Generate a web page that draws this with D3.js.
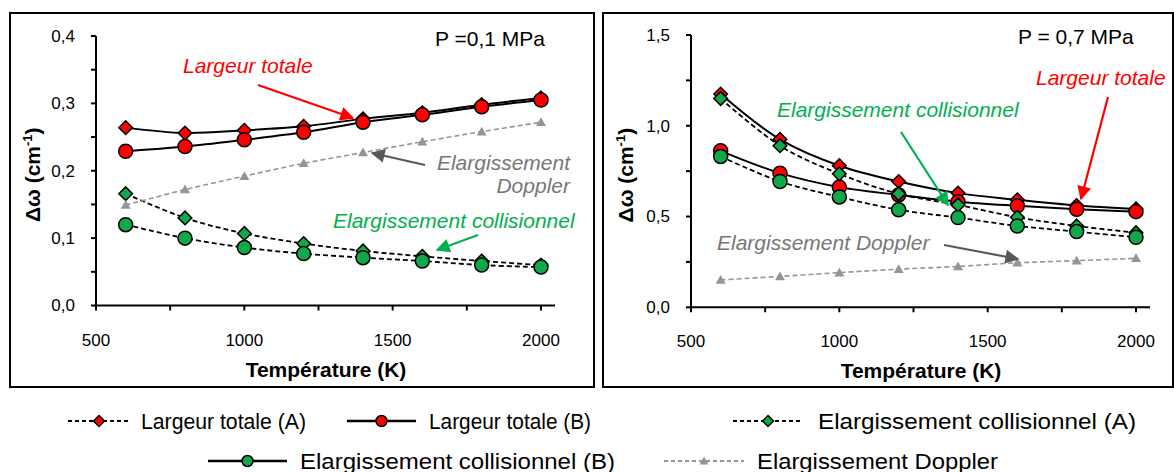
<!DOCTYPE html>
<html><head><meta charset="utf-8">
<script src="https://cdn.jsdelivr.net/npm/d3@7"></script>
<style>body{margin:0;background:#fff}svg{display:block;font-family:"Liberation Sans",Arial,sans-serif}</style>
</head><body><svg id="c" width="1174" height="472"></svg>
<script>
// ---------- data ----------
const temps = [600, 800, 1000, 1200, 1400, 1600, 1800, 2000];
const xTicks = [500, 1000, 1500, 2000];
// P = 0,1 MPa
const totalA_01 = [0.264, 0.256, 0.260, 0.266, 0.277, 0.286, 0.298, 0.308];
const totalB_01 = [0.229, 0.236, 0.246, 0.257, 0.272, 0.283, 0.295, 0.305];
const collA_01  = [0.166, 0.130, 0.107, 0.092, 0.081, 0.073, 0.066, 0.060];
const collB_01  = [0.120, 0.100, 0.086, 0.077, 0.071, 0.066, 0.060, 0.057];
const doppler_01 = [0.149, 0.172, 0.192, 0.211, 0.227, 0.243, 0.258, 0.272];
const yTicks_01 = [0.0, 0.1, 0.2, 0.3, 0.4];
// P = 0,7 MPa
const totalA_07 = [1.175, 0.925, 0.780, 0.693, 0.629, 0.592, 0.561, 0.542];
const totalB_07 = [0.862, 0.739, 0.662, 0.619, 0.582, 0.559, 0.540, 0.527];
const collA_07  = [1.150, 0.890, 0.735, 0.625, 0.564, 0.496, 0.448, 0.411];
const collB_07  = [0.831, 0.693, 0.608, 0.537, 0.494, 0.448, 0.417, 0.386];
const doppler_07 = [0.151, 0.170, 0.191, 0.210, 0.225, 0.245, 0.257, 0.270];
const yTicks_07 = [0.0, 0.5, 1.0, 1.5];

const legendLabels = ["Largeur totale (A)", "Largeur totale (B)", "Elargissement collisionnel (A)",
                      "Elargissement collisionnel (B)", "Elargissement Doppler"];

// ---------- styles ----------
const RED = "#ff0000", GREEN = "#10a84a", GRAY = "#959595";
const TXT_GREEN = "#00b050", TXT_GRAY = "#767676", ARROW_GRAY = "#595959";
const fmt = d => d3.format(".1f")(d).replace(".", ",");

const svg = d3.select("#c");
const defs = svg.append("defs");
function marker(id, color) {
  defs.append("marker").attr("id", id).attr("viewBox", "0 0 10 10").attr("refX", 9).attr("refY", 5)
    .attr("orient", "auto").attr("markerUnits", "userSpaceOnUse")
    .attr("markerWidth", 16).attr("markerHeight", 14)
    .append("path").attr("d", "M0,0 L10,5 L0,10 Z").attr("fill", color);
}
marker("ar-red", RED); marker("ar-green", TXT_GREEN); marker("ar-gray", ARROW_GRAY);

function diamondPath(h) { return `M0,${-h}L${h},0L0,${h}L${-h},0Z`; }
function trianglePath(w) { return `M0,${-w}L${w},${w * 0.75}L${-w},${w * 0.75}Z`; }

function drawPanel(cfg) {
  const g = svg.append("g");
  g.append("rect").attr("x", cfg.box[0]).attr("y", cfg.box[1]).attr("width", cfg.box[2]).attr("height", cfg.box[3])
    .attr("fill", "none").attr("stroke", "#000").attr("stroke-width", 2);

  const x = d3.scaleLinear().domain([500, 2000]).range([cfg.x0, cfg.x0 + 445]);
  const y = d3.scaleLinear().domain([0, cfg.yMax]).range([cfg.yBottom, cfg.yTop]);

  // x axis
  const xa = g.append("g").attr("transform", `translate(0,${cfg.yBottom})`);
  xa.append("line").attr("x1", x(500)).attr("x2", x(2000) + 14).attr("stroke", "#000").attr("stroke-width", 2);
  xa.selectAll(".xt").data(d3.range(500, 2001, 250)).join("line")
    .attr("x1", d => x(d)).attr("x2", d => x(d)).attr("y1", 0).attr("y2", 5).attr("stroke", "#000").attr("stroke-width", 2);
  xa.selectAll(".xl").data(xTicks).join("text").attr("x", d => x(d)).attr("y", 40)
    .attr("text-anchor", "middle").attr("font-size", 17).text(d => d);

  // y axis
  const ya = g.append("g").attr("transform", `translate(${cfg.x0},0)`);
  ya.append("line").attr("y1", y(0)).attr("y2", y(cfg.yMax)).attr("stroke", "#000").attr("stroke-width", 2);
  ya.selectAll(".yt").data(d3.range(0, cfg.yMax + 1e-9, cfg.yMinor)).join("line")
    .attr("y1", d => y(d)).attr("y2", d => y(d)).attr("x1", -5).attr("x2", 0).attr("stroke", "#000").attr("stroke-width", 2);
  ya.selectAll(".yl").data(cfg.yTicks).join("text").attr("x", -21).attr("y", d => y(d)).attr("dy", "0.35em")
    .attr("text-anchor", "end").attr("font-size", 17).text(fmt);

  // titles
  g.append("text").attr("x", x(500) + 230).attr("y", cfg.yBottom + 71).attr("text-anchor", "middle")
    .attr("font-size", 21).attr("font-weight", "bold").text("Température (K)");
  const yt = g.append("text").attr("transform", `translate(${cfg.yTitleX},${(cfg.yTop + cfg.yBottom) / 2 + 4}) rotate(-90)`)
    .attr("text-anchor", "middle").attr("font-size", 21).attr("font-weight", "bold");
  yt.append("tspan").text("Δω (cm");
  yt.append("tspan").attr("font-size", 13).attr("dy", -8).text("-1");
  yt.append("tspan").attr("dy", 8).text(")");

  const curve = d3.curveCatmullRom.alpha(0.5);
  const line = d3.line().x((d, i) => x(temps[i])).y(d => y(d)).curve(curve);
  const series = [
    { v: cfg.totalA, dash: null, color: "#000", w: 2, m: "diamond", fill: RED },
    { v: cfg.totalB, dash: null, color: "#000", w: 2, m: "circle", fill: RED },
    { v: cfg.collA, dash: "5,3", color: "#000", w: 1.8, m: "diamond", fill: GREEN },
    { v: cfg.collB, dash: "5,3", color: "#000", w: 1.8, m: "circle", fill: GREEN },
    { v: cfg.doppler, dash: "5,3", color: GRAY, w: 1.6, m: "triangle", fill: GRAY },
  ];
  series.forEach(s => {
    g.append("path").attr("d", line(s.v)).attr("fill", "none").attr("stroke", s.color)
      .attr("stroke-width", s.w).attr("stroke-dasharray", s.dash);
  });
  series.forEach(s => {
    const pts = g.selectAll(null).data(s.v).join("g").attr("transform", (d, i) => `translate(${x(temps[i])},${y(d)})`);
    if (s.m === "circle") pts.append("circle").attr("r", 7).attr("fill", s.fill).attr("stroke", "#000").attr("stroke-width", 1.5);
    else if (s.m === "diamond") pts.append("path").attr("d", diamondPath(6.8)).attr("fill", s.fill).attr("stroke", "#000").attr("stroke-width", 1.5);
    else pts.append("path").attr("d", trianglePath(5)).attr("fill", s.fill);
  });

  // annotations
  g.append("text").attr("x", cfg.pLabel[0]).attr("y", cfg.pLabel[1]).attr("font-size", 21).text(cfg.pText);
  cfg.notes.forEach(n => {
    const t = g.append("text").attr("x", n.x).attr("y", n.y).attr("font-size", 21).attr("font-style", "italic")
      .attr("fill", n.color).attr("text-anchor", n.anchor || "start");
    n.lines.forEach((l, i) => t.append("tspan").attr("x", n.x).attr("dy", i ? 23 : 0).text(l));
    g.append("line").attr("x1", n.arrow[0]).attr("y1", n.arrow[1]).attr("x2", n.arrow[2]).attr("y2", n.arrow[3])
      .attr("stroke", n.acolor).attr("stroke-width", 2.2).attr("marker-end", `url(#${n.mid})`);
  });
}

drawPanel({
  box: [10, 13, 584, 374], x0: 96, yTop: 36, yBottom: 305.5, yMax: 0.4, yMinor: 0.05, yTicks: yTicks_01, yTitleX: 40,
  totalA: totalA_01, totalB: totalB_01, collA: collA_01, collB: collB_01, doppler: doppler_01,
  pLabel: [435, 46], pText: "P =0,1 MPa",
  notes: [
    { lines: ["Largeur totale"], x: 183, y: 73, color: RED, arrow: [258, 85, 353, 118], acolor: RED, mid: "ar-red" },
    { lines: ["Elargissement", "Doppler"], x: 570, y: 170, anchor: "end", color: TXT_GRAY, arrow: [425, 165, 372, 153], acolor: ARROW_GRAY, mid: "ar-gray" },
    { lines: ["Elargissement collisionnel"], x: 333, y: 228, color: TXT_GREEN, arrow: [478, 235, 437, 250], acolor: TXT_GREEN, mid: "ar-green" },
  ]
});
drawPanel({
  box: [603, 13, 570, 374], x0: 691, yTop: 35, yBottom: 307.3, yMax: 1.5, yMinor: 0.25, yTicks: yTicks_07, yTitleX: 633,
  totalA: totalA_07, totalB: totalB_07, collA: collA_07, collB: collB_07, doppler: doppler_07,
  pLabel: [1018, 44], pText: "P = 0,7 MPa",
  notes: [
    { lines: ["Largeur totale"], x: 1036, y: 85, color: RED, arrow: [1108, 97, 1081, 199], acolor: RED, mid: "ar-red" },
    { lines: ["Elargissement collisionnel"], x: 777, y: 117, color: TXT_GREEN, arrow: [901, 132, 948, 205], acolor: TXT_GREEN, mid: "ar-green" },
    { lines: ["Elargissement Doppler"], x: 717, y: 250, color: TXT_GRAY, arrow: [944, 245, 1018, 259], acolor: ARROW_GRAY, mid: "ar-gray" },
  ]
});

// ---------- legend ----------
const legendItems = [
  { label: legendLabels[0], sx: 68, ex: 130, tx: 141, len: 165, row: 0, dash: "4,3", color: "#000", m: "diamond", fill: RED },
  { label: legendLabels[1], sx: 347, ex: 416, tx: 429, len: 162, row: 0, dash: null, color: "#000", m: "circle", fill: RED },
  { label: legendLabels[2], sx: 733, ex: 803, tx: 818, len: 318, row: 0, dash: "4,3", color: "#000", m: "diamond", fill: GREEN },
  { label: legendLabels[3], sx: 208, ex: 287, tx: 300, len: 315, row: 1, dash: null, color: "#000", m: "circle", fill: GREEN },
  { label: legendLabels[4], sx: 664, ex: 744, tx: 757, len: 241, row: 1, dash: "4,3", color: GRAY, m: "triangle", fill: GRAY },
];
const rowsY = [421, 461];
const lg = svg.append("g");
legendItems.forEach(it => {
  const cy = rowsY[it.row];
  lg.append("line").attr("x1", it.sx).attr("x2", it.ex).attr("y1", cy).attr("y2", cy)
    .attr("stroke", it.color).attr("stroke-width", it.dash ? 1.8 : 2.5).attr("stroke-dasharray", it.dash);
  const s = lg.append("g").attr("transform", `translate(${(it.sx + it.ex) / 2},${cy})`);
  if (it.m === "circle") s.append("circle").attr("r", 5.5).attr("fill", it.fill).attr("stroke", "#000").attr("stroke-width", 1.5);
  else if (it.m === "diamond") s.append("path").attr("d", diamondPath(5.5)).attr("fill", it.fill).attr("stroke", "#000").attr("stroke-width", 1.5);
  else s.append("path").attr("d", trianglePath(4.5)).attr("fill", it.fill);
  lg.append("text").attr("x", it.tx).attr("y", cy + 7.5).attr("font-size", 21.5)
    .attr("textLength", it.len).attr("lengthAdjust", "spacingAndGlyphs").text(it.label);
});
</script></body></html>
